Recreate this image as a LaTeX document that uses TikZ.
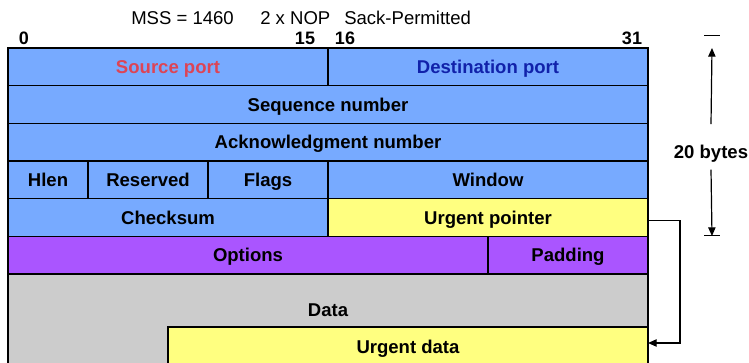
\documentclass[tikz,border=0pt]{standalone}
\usepackage{fontspec}
\setmainfont{Liberation Sans}
\usetikzlibrary{positioning,arrows.meta}
\definecolor{hdrblue}{RGB}{119,170,255}
\definecolor{urgyellow}{RGB}{255,255,128}
\definecolor{optpurple}{RGB}{170,85,255}
\definecolor{datagray}{RGB}{204,204,204}
\definecolor{srcred}{RGB}{221,68,85}
\definecolor{dstblue}{RGB}{17,34,170}
\tikzset{
 field/.style={draw,line width=0.9pt,fill=hdrblue,inner sep=0pt,outer sep=0pt,
  minimum height=28.25pt,text height=10pt,text depth=0pt,
  font=\fontsize{13.9}{16}\selectfont\bfseries},
 lbl/.style={inner sep=0pt,text height=10pt,text depth=0pt,font=\fontsize{13.9}{16}\selectfont\bfseries},
 bitno/.style={anchor=base,inner sep=0pt,font=\fontsize{13.5}{16}\selectfont\bfseries},
 note/.style={anchor=base west,inner sep=0pt,font=\fontsize{13.9}{16}\selectfont},
 dimline/.style={line width=0.9pt,-{Triangle[length=6.5pt,width=5.5pt]}},
 tick/.style={line width=0.75pt}
}
\begin{document}
\begin{tikzpicture}[x=0.75pt,y=-0.75pt]
 \clip (0,0) rectangle (749,363);
 % options seen in the segment
 \node[note] (mss) at (131,25) {MSS = 1460};
 \node[note] (nop) at (260,25) {2 x NOP};
 \node[note] (sack) at (344,25) {Sack-Permitted};
 % bit numbers
 \node[bitno] (b0) at (24,45) {0};
 \node[bitno] (b15) at (305,45) {15};
 \node[bitno] (b16) at (345,45) {16};
 \node[bitno] (b31) at (632,45) {31};
 % header rows
 \node[field,anchor=north west,minimum width=240pt,text=srcred] (src) at (8,48) {Source port};
 \node[field,right=0pt of src,minimum width=240pt,text=dstblue] (dst) {Destination port};
 \node[field,below right=0pt of src.south west,minimum width=480pt] (seq) {Sequence number};
 \node[field,below right=0pt of seq.south west,minimum width=480pt] (ack) {Acknowledgment number};
 \node[field,below right=0pt of ack.south west,minimum width=60pt] (hlen) {Hlen};
 \node[field,right=0pt of hlen,minimum width=90pt] (resv) {Reserved};
 \node[field,right=0pt of resv,minimum width=90pt] (flags) {Flags};
 \node[field,right=0pt of flags,minimum width=240pt] (win) {Window};
 \node[field,below right=0pt of hlen.south west,minimum width=240pt] (cks) {Checksum};
 \node[field,right=0pt of cks,minimum width=240pt,fill=urgyellow] (urgptr) {Urgent pointer};
 \node[field,below right=0pt of cks.south west,minimum width=360pt,fill=optpurple] (opts) {Options};
 \node[field,right=0pt of opts,minimum width=120pt,fill=optpurple] (pad) {Padding};
 % payload
 \node[field,below right=0pt of opts.south west,minimum width=480pt,minimum height=75pt,fill=datagray] (data) {};
 \node[lbl] (datalbl) at (328,310) {Data};
 \node[field,anchor=north west,minimum width=360pt,minimum height=30pt,fill=urgyellow] (urgdata) at (168,327) {Urgent data};
 % urgent pointer arrow
 \draw[dimline] ([yshift=-2pt]urgptr.east) -- ++(32,0) |- ([yshift=3pt]urgdata.east);
 % header length
 \node[lbl] (bytes) at (711,152) {20 bytes};
 \coordinate (dimtop) at (712,48);
 \coordinate (dimbot) at (712,236);
 \draw[tick] (704,36) -- (720,36);
 \draw[tick] (704,236) -- (720,236);
 \draw[dimline] ([yshift=15.75pt]bytes.north) -- (dimtop);
 \draw[dimline] ([yshift=-8pt]bytes.south) -- (dimbot);
\end{tikzpicture}
\end{document}
